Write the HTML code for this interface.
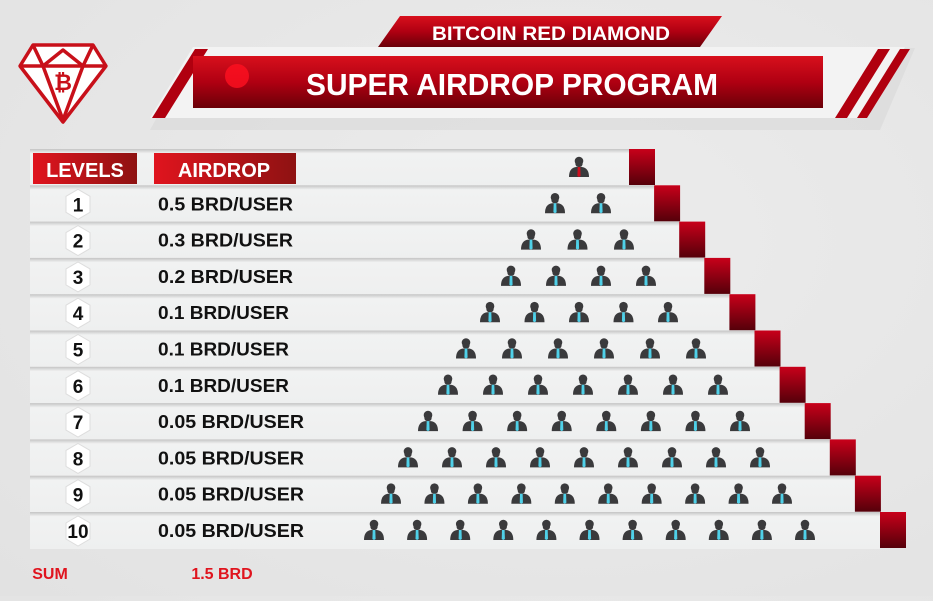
<!DOCTYPE html>
<html><head><meta charset="utf-8"><style>
html,body{margin:0;padding:0;}
body{width:933px;height:596px;overflow:hidden;background:radial-gradient(ellipse at 60% 40%,#ececec,#e2e2e2);font-family:"Liberation Sans",sans-serif;}
</style></head><body>
<svg id="s" width="933" height="596" viewBox="0 0 933 596" xmlns="http://www.w3.org/2000/svg">
<defs>
<linearGradient id="rb" x1="0" y1="0" x2="0" y2="1"><stop offset="0" stop-color="#c8001a"/><stop offset="1" stop-color="#55000a"/></linearGradient>
<linearGradient id="hd" x1="0" y1="0" x2="1" y2="0"><stop offset="0" stop-color="#e0141e"/><stop offset="1" stop-color="#8e1212"/></linearGradient>
<linearGradient id="ban" x1="0" y1="0" x2="0" y2="1"><stop offset="0" stop-color="#d8101c"/><stop offset="0.5" stop-color="#b00012"/><stop offset="1" stop-color="#6a0008"/></linearGradient>
<linearGradient id="row" x1="0" y1="0" x2="0" y2="1"><stop offset="0" stop-color="#c4c4c4"/><stop offset="0.12" stop-color="#f1f2f2"/><stop offset="1" stop-color="#eeefef"/></linearGradient>
<g id="p"><circle cx="0" cy="-6" r="4.3" fill="#3a3a3c"/><rect x="-3.6" y="-8" width="7.2" height="8" rx="3" fill="#3a3a3c"/><path d="M-10 10 Q-10 1 -3 0 L3 0 Q10 1 10 10 Z" fill="#3a3a3c"/><path d="M-1.3 0 L1.3 0 L1.6 9 L0 10 L-1.6 9Z" fill="#4fd0e8"/></g>
<g id="pr"><circle cx="0" cy="-6" r="4.3" fill="#3a3a3c"/><rect x="-3.6" y="-8" width="7.2" height="8" rx="3" fill="#3a3a3c"/><path d="M-10 10 Q-10 1 -3 0 L3 0 Q10 1 10 10 Z" fill="#3a3a3c"/><path d="M-1.3 0 L1.3 0 L1.6 9 L0 10 L-1.6 9Z" fill="#d01020"/></g>
</defs>
<polygon points="150,130 195,48 915,48 880,130" fill="#d6d6d6" opacity="0.5"/>
<polygon points="150,118 193,47 905,47 865,118" fill="#f3f3f3"/>
<polygon points="152,118 195,49 208,49 165,118" fill="#b0000f"/>
<polygon points="835,118 878,49 890,49 847,118" fill="#b0000f"/>
<polygon points="857,118 900,49 910,49 867,118" fill="#b0000f"/>
<rect x="193" y="56" width="630" height="52" fill="url(#ban)"/>
<circle cx="237" cy="76" r="12" fill="#ff1020" opacity="0.8"/>
<text x="512" y="95" text-anchor="middle" font-size="31" font-weight="bold" fill="#fff" textLength="412" lengthAdjust="spacingAndGlyphs">SUPER AIRDROP PROGRAM</text>
<polygon points="378,47 400,16 722,16 700,47" fill="url(#ban)"/>
<text x="551" y="40" text-anchor="middle" font-size="19" font-weight="bold" fill="#fff" textLength="238" lengthAdjust="spacingAndGlyphs">BITCOIN RED DIAMOND</text>
<g fill="none" stroke="#c8101a" stroke-width="3.5" stroke-linejoin="round">
<polygon points="20,66 33,45 93,45 106,66 63,122" fill="#fff"/>
<polyline points="20,66 106,66"/>
<polyline points="33,45 43,66 63,120 83,66 93,45"/>
<polyline points="43,66 63,50 83,66"/>
</g>
<text x="63" y="90" text-anchor="middle" font-size="22" font-weight="bold" fill="#c8101a">₿</text>
<g id="rows"></g>
<text x="50" y="579" font-size="16" font-weight="bold" fill="#e0141e" text-anchor="middle">SUM</text>
<text x="222" y="579" font-size="16" font-weight="bold" fill="#e0141e" text-anchor="middle">1.5 BRD</text>
</svg>
<script>
(function(){
var g=document.getElementById('rows'),NS='http://www.w3.org/2000/svg';
function el(t,a,txt){var e=document.createElementNS(NS,t);for(var k in a)e.setAttribute(k,a[k]);if(txt!==undefined)e.textContent=txt;g.appendChild(e);return e;}
var ext=[[579,579],[555,601],[531,624],[511,646],[490,668],[466,696],[448,718],[428,740],[408,760],[391,782],[374,805]];
var labels=["","0.5 BRD/USER","0.3 BRD/USER","0.2 BRD/USER","0.1 BRD/USER","0.1 BRD/USER","0.1 BRD/USER","0.05 BRD/USER","0.05 BRD/USER","0.05 BRD/USER","0.05 BRD/USER"];
var lens=[0,135,135,135,131,131,131,146,146,146,146];
for(var i=0;i<=10;i++){
 var ty=149+i*36.3, right=629+i*25.1;
 el('rect',{x:30,y:ty,width:right-30,height:37,fill:'url(#row)'});
 el('rect',{x:right,y:ty,width:26,height:36,fill:'url(#rb)'});
 var cy=ty+19;
 if(i==0){
  el('rect',{x:33,y:153,width:104,height:31,fill:'url(#hd)'});
  el('text',{x:85,y:177,'font-size':20,'font-weight':'bold',fill:'#fff','text-anchor':'middle'},'LEVELS');
  el('rect',{x:154,y:153,width:142,height:31,fill:'url(#hd)'});
  el('text',{x:224,y:177,'font-size':20,'font-weight':'bold',fill:'#fff','text-anchor':'middle'},'AIRDROP');
 } else {
  var cx=78;
  el('polygon',{points:[cx-12,cy-8,cx,cy-15,cx+12,cy-8,cx+12,cy+8,cx,cy+15,cx-12,cy+8].join(','),fill:'#fff',stroke:'#ddd','stroke-width':1});
  el('text',{x:cx,y:cy+7,'font-size':19,'font-weight':'bold',fill:'#111','text-anchor':'middle'},String(i));
  el('text',{x:158,y:cy+6,'font-size':18,'font-weight':'bold',fill:'#111',textLength:lens[i],lengthAdjust:'spacingAndGlyphs'},labels[i]);
 }
 var a=ext[i][0],b=ext[i][1],n=i+1;
 for(var j=0;j<n;j++){var x=n==1?a:a+(b-a)*j/(n-1);el('use',{href:i==0?'#pr':'#p',x:x,y:cy-1});}
}
})();
</script>
</body></html>
